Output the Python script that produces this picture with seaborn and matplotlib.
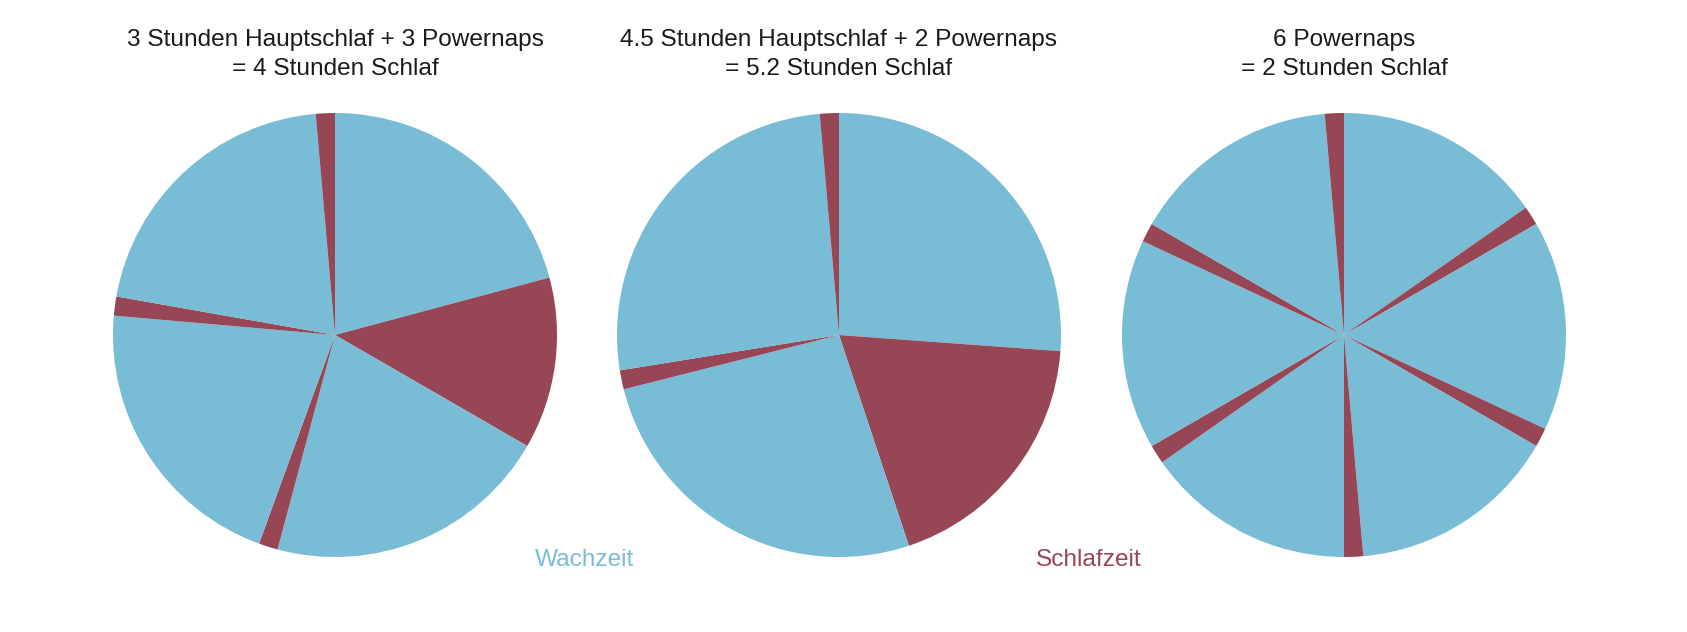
import matplotlib
matplotlib.use("Agg")
import matplotlib.pyplot as plt
import seaborn as sns

sns.set_style("white")
plt.rcParams['font.family'] = ['Liberation Sans', 'DejaVu Sans']

# colours for awake / asleep
wach_color = '#78BDD5'
schlaf_color = '#974656'

# hours per segment, clockwise from midnight (top)
pie1_hours = [5, 3, 5, 0.333, 5, 0.333, 5, 0.333]
pie1_kind = ['wach', 'schlaf', 'wach', 'schlaf', 'wach', 'schlaf', 'wach', 'schlaf']

pie2_hours = [6.28, 4.5, 6.28, 0.333, 6.28, 0.333]
pie2_kind = ['wach', 'schlaf', 'wach', 'schlaf', 'wach', 'schlaf']

pie3_hours = [3.667, 0.333, 3.667, 0.333, 3.667, 0.333, 3.667, 0.333, 3.667, 0.333, 3.667, 0.333]
pie3_kind = ['wach', 'schlaf'] * 6

titles = ['3 Stunden Hauptschlaf + 3 Powernaps\n= 4 Stunden Schlaf',
          '4.5 Stunden Hauptschlaf + 2 Powernaps\n= 5.2 Stunden Schlaf',
          '6 Powernaps\n= 2 Stunden Schlaf']

W, H = 1687, 632
fig = plt.figure(figsize=(W / 100, H / 100), dpi=100)

centers_x = [335, 839, 1344]
center_y = 335
radius = 222

pies = [(pie1_hours, pie1_kind), (pie2_hours, pie2_kind), (pie3_hours, pie3_kind)]
color_map = {'wach': wach_color, 'schlaf': schlaf_color}

for cx, (hours, kind), title in zip(centers_x, pies, titles):
    ax = fig.add_axes([(cx - radius) / W, (H - center_y - radius) / H,
                       2 * radius / W, 2 * radius / H])
    ax.pie(hours, colors=[color_map[k] for k in kind], startangle=90,
           counterclock=False, radius=1, wedgeprops={'linewidth': 0})
    ax.set_xlim(-1, 1)
    ax.set_ylim(-1, 1)
    ax.set_aspect('equal')
    ax.axis('off')
    fig.text(cx / W, 1 - 54.5 / H, title, ha='center', va='center',
             fontsize=17.6, color='#1a1a1a', linespacing=1.4)

# legend as coloured words
fig.text(585 / W, 1 - 560 / H, 'Wachzeit', ha='center', va='center',
         fontsize=17.6, color=wach_color)
fig.text(1089 / W, 1 - 560 / H, 'Schlafzeit', ha='center', va='center',
         fontsize=17.6, color=schlaf_color)

fig.savefig('out.png', dpi=100, facecolor='white')
